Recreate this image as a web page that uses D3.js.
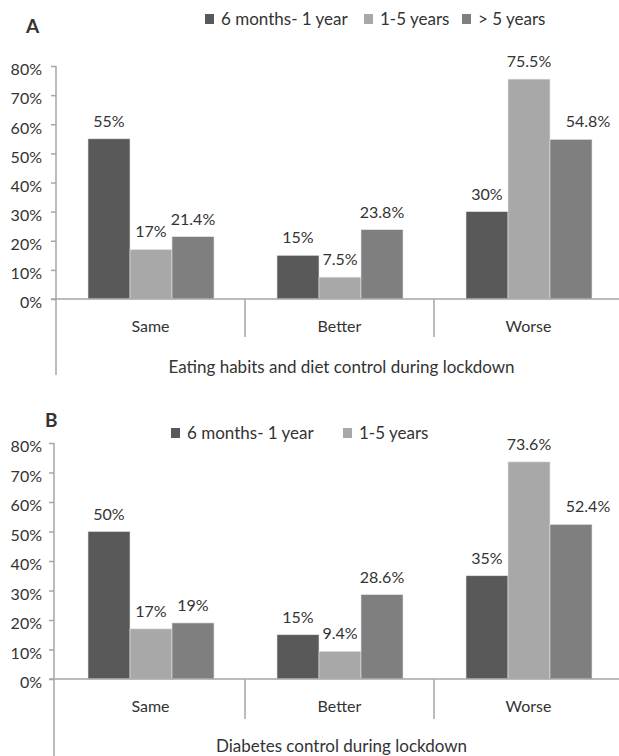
<!DOCTYPE html>
<html>
<head>
<meta charset="utf-8">
<script src="https://cdn.jsdelivr.net/npm/d3@7"></script>
<style>
  body { margin: 0; background: #fff; }
  text { font-family: Lato, "Open Sans", sans-serif; fill: #333; }
</style>
</head>
<body>
<div id="chart"></div>
<script>
// data
const categories = ["Same", "Better", "Worse"];
const seriesNames = ["6 months- 1 year", "1-5 years", "> 5 years"];
const yTicks = [0, 10, 20, 30, 40, 50, 60, 70, 80];

// panel A: eating habits and diet control (%)
const eatingShort = [55, 15, 30];
const eatingMid = [17, 7.5, 75.5];
const eatingLong = [21.4, 23.8, 54.8];
const legendA = ["6 months- 1 year", "1-5 years", "> 5 years"];

// panel B: diabetes control (%)
const diabetesShort = [50, 15, 35];
const diabetesMid = [17, 9.4, 73.6];
const diabetesLong = [19, 28.6, 52.4];
const legendB = ["6 months- 1 year", "1-5 years"];

const seriesColor = ["#595959", "#a8a8a8", "#7f7f7f"];

const W = 619, H = 756;

let svg = d3.select("#chart").append("svg")
    .attr("width", W)
    .attr("height", H);

// draw one panel
function drawPanel(cfg) {
    let g = svg.append("g");

    let x0 = d3.scaleBand()
        .domain(categories)
        .range([56, 623]);
    let x1 = d3.scaleBand()
        .domain(seriesNames)
        .range([32, 158]);
    let y = d3.scaleLinear()
        .domain([0, 80])
        .range([cfg.bottom, cfg.top]);

    // y axis
    let yAxis = d3.axisLeft(y)
        .tickValues(yTicks)
        .tickFormat(d => d + "%")
        .tickSize(5)
        .tickPadding(cfg.axisX - 47);
    let ax = g.append("g")
        .attr("transform", "translate(" + cfg.axisX + ",0)")
        .call(yAxis);
    ax.select(".domain").remove();
    ax.selectAll("line")
        .attr("stroke", "#a6a6a6")
        .attr("stroke-width", 1.5);
    ax.selectAll("text")
        .attr("font-size", 16)
        .attr("dy", "0.55em")
        .attr("fill", "#333")
        .style("font-family", "Lato, sans-serif");

    g.append("line")
        .attr("x1", cfg.axisX).attr("x2", cfg.axisX)
        .attr("y1", cfg.top).attr("y2", cfg.axisBottom)
        .attr("stroke", "#a6a6a6")
        .attr("stroke-width", 1.5);

    // bars
    let rows = categories.map((c, i) => seriesNames.map((s, j) => ({
        cat: c, ser: s, j: j, i: i, v: cfg.values[j][i]
    })));
    let grp = g.selectAll(".grp")
        .data(rows)
        .enter()
        .append("g")
        .attr("class", "grp")
        .attr("transform", d => "translate(" + x0(d[0].cat) + ",0)");
    grp.selectAll("rect")
        .data(d => d)
        .enter()
        .append("rect")
        .attr("x", d => x1(d.ser))
        .attr("y", d => y(d.v))
        .attr("width", x1.bandwidth())
        .attr("height", d => cfg.bottom - y(d.v))
        .attr("fill", d => seriesColor[d.j])
        .attr("stroke", "#e4e4e4")
        .attr("stroke-width", 0.6);
    // the "Worse / > 5 years" label sits a little to the right in the original
    grp.selectAll(".val")
        .data(d => d)
        .enter()
        .append("text")
        .attr("class", "val")
        .attr("x", d => x1(d.ser) + x1.bandwidth() / 2 + (d.i == 2 && d.j == 2 ? 17 : 0))
        .attr("y", d => y(d.v) - 12)
        .attr("text-anchor", "middle")
        .attr("font-size", 16)
        .text(d => d.v + "%");

    // x axis line + separators
    g.append("line")
        .attr("x1", cfg.axisX - 5).attr("x2", W)
        .attr("y1", cfg.bottom).attr("y2", cfg.bottom)
        .attr("stroke", "#a6a6a6")
        .attr("stroke-width", 1.5);
    g.selectAll(".sep")
        .data(categories)
        .enter()
        .append("line")
        .attr("class", "sep")
        .attr("x1", d => x0(d) + x0.bandwidth())
        .attr("x2", d => x0(d) + x0.bandwidth())
        .attr("y1", cfg.bottom)
        .attr("y2", cfg.sepBottom)
        .attr("stroke", "#a6a6a6")
        .attr("stroke-width", 1.5);
    g.selectAll(".cat")
        .data(categories)
        .enter()
        .append("text")
        .attr("class", "cat")
        .attr("x", d => x0(d) + x0.bandwidth() / 2)
        .attr("y", cfg.catY)
        .attr("text-anchor", "middle")
        .attr("font-size", 16)
        .text(d => d);

    g.append("text")
        .attr("x", (56 + 623) / 2 + 2)
        .attr("y", cfg.titleY)
        .attr("text-anchor", "middle")
        .attr("font-size", 17)
        .text(cfg.title);

    // legend
    let lg = g.selectAll(".lg")
        .data(cfg.legend)
        .enter()
        .append("g")
        .attr("class", "lg")
        .attr("transform", (d, i) => "translate(" + cfg.legendX[i] + "," + cfg.legendY + ")");
    lg.append("rect")
        .attr("x", 0)
        .attr("y", -5)
        .attr("width", 9)
        .attr("height", 10)
        .attr("fill", (d, i) => seriesColor[i]);
    lg.append("text")
        .attr("x", 16)
        .attr("y", 6)
        .attr("font-size", 17)
        .text(d => d);

    // panel letter
    g.append("text")
        .attr("x", cfg.letterX)
        .attr("y", cfg.letterY)
        .attr("font-size", 19)
        .attr("font-weight", "bold")
        .attr("fill", "#111")
        .text(cfg.letter);
}

drawPanel({
    letter: "A",
    letterX: 26, letterY: 33,
    title: "Eating habits and diet control during lockdown",
    values: [eatingShort, eatingMid, eatingLong],
    legend: legendA,
    legendX: [205, 364, 462],
    legendY: 19,
    top: 66, bottom: 299,
    axisX: 56, axisBottom: 375,
    sepBottom: 337, catY: 332, titleY: 373
});

drawPanel({
    letter: "B",
    letterX: 45, letterY: 427,
    title: "Diabetes control during lockdown",
    values: [diabetesShort, diabetesMid, diabetesLong],
    legend: legendB,
    legendX: [171, 343],
    legendY: 433,
    top: 443, bottom: 679,
    axisX: 54, axisBottom: 756,
    sepBottom: 719, catY: 712, titleY: 752
});
</script>
</body>
</html>
